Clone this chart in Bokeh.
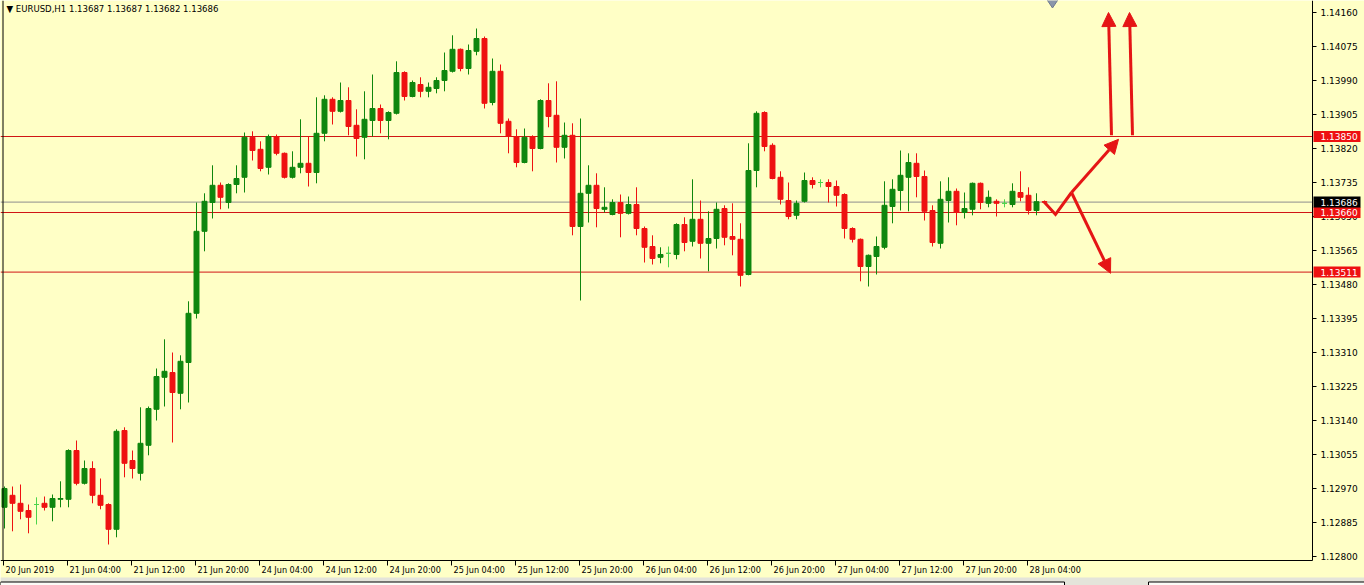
from bokeh.plotting import figure
from bokeh.models import Range1d, ColumnDataSource, Arrow, NormalHead
from bokeh.core.properties import value
from bokeh.embed import file_html
from bokeh.resources import INLINE

header = "\u25bc EURUSD,H1  1.13687 1.13687 1.13682 1.13686"

opens = [1.12923, 1.12953, 1.12933, 1.12915, 1.12930, 1.12933, 1.12923, 1.12943, 1.12943, 1.13065,
         1.12983, 1.13020, 1.12953, 1.12930, 1.12868, 1.13115, 1.13040, 1.13008, 1.13078, 1.13168,
         1.13248, 1.13260, 1.13208, 1.13285, 1.13408, 1.13613, 1.13685, 1.13728, 1.13685, 1.13730,
         1.13748, 1.13848, 1.13818, 1.13773, 1.13850, 1.13808, 1.13748, 1.13773, 1.13783, 1.13760,
         1.13858, 1.13943, 1.13913, 1.13940, 1.13878, 1.13848, 1.13890, 1.13920, 1.13890, 1.13908,
         1.14010, 1.13950, 1.13980, 1.13963, 1.13970, 1.13990, 1.14013, 1.14068, 1.14020, 1.14063,
         1.14095, 1.13935, 1.14013, 1.13888, 1.13850, 1.13785, 1.13850, 1.13820, 1.13940, 1.13903,
         1.13823, 1.13853, 1.13625, 1.13708, 1.13728, 1.13668, 1.13655, 1.13685, 1.13658, 1.13680,
         1.13620, 1.13575, 1.13548, 1.13558, 1.13555, 1.13630, 1.13588, 1.13643, 1.13583, 1.13595,
         1.13670, 1.13600, 1.13593, 1.13505, 1.13765, 1.13910, 1.13828, 1.13748, 1.13690, 1.13653,
         1.13688, 1.13740, 1.13735, 1.13735, 1.13725, 1.13705, 1.13620, 1.13593, 1.13525, 1.13550,
         1.13573, 1.13675, 1.13715, 1.13748, 1.13783, 1.13750, 1.13665, 1.13583, 1.13690, 1.13713,
         1.13660, 1.13668, 1.13733, 1.13683, 1.13688, 1.13683, 1.13680, 1.13710, 1.13703, 1.13665,
         1.13687]
highs = [1.12975, 1.12975, 1.12980, 1.12930, 1.12948, 1.12950, 1.12955, 1.12988, 1.13068, 1.13090,
         1.13040, 1.13038, 1.12995, 1.12933, 1.13118, 1.13123, 1.13065, 1.13173, 1.13175, 1.13270,
         1.13343, 1.13310, 1.13303, 1.13438, 1.13685, 1.13708, 1.13778, 1.13735, 1.13733, 1.13778,
         1.13860, 1.13863, 1.13838, 1.13855, 1.13855, 1.13810, 1.13813, 1.13893, 1.13850, 1.13948,
         1.13953, 1.13948, 1.13985, 1.13973, 1.13918, 1.13963, 1.14005, 1.13930, 1.13913, 1.14038,
         1.14013, 1.13990, 1.13998, 1.13985, 1.13998, 1.14060, 1.14103, 1.14070, 1.14080, 1.14120,
         1.14100, 1.14045, 1.14030, 1.13895, 1.13868, 1.13870, 1.13853, 1.13943, 1.13983, 1.13988,
         1.13885, 1.13883, 1.13895, 1.13778, 1.13758, 1.13723, 1.13693, 1.13705, 1.13700, 1.13723,
         1.13625, 1.13603, 1.13573, 1.13575, 1.13633, 1.13648, 1.13743, 1.13690, 1.13663, 1.13685,
         1.13678, 1.13683, 1.13633, 1.13833, 1.13913, 1.13913, 1.13833, 1.13763, 1.13735, 1.13690,
         1.13760, 1.13748, 1.13743, 1.13743, 1.13740, 1.13708, 1.13623, 1.13595, 1.13555, 1.13600,
         1.13738, 1.13743, 1.13815, 1.13808, 1.13808, 1.13765, 1.13678, 1.13738, 1.13748, 1.13720,
         1.13710, 1.13735, 1.13735, 1.13715, 1.13693, 1.13693, 1.13733, 1.13763, 1.13723, 1.13708,
         1.13687]
lows = [1.12870, 1.12863, 1.12893, 1.12858, 1.12880, 1.12915, 1.12888, 1.12923, 1.12923, 1.12978,
        1.12980, 1.12933, 1.12918, 1.12830, 1.12848, 1.12998, 1.12995, 1.12990, 1.13053, 1.13140,
        1.13175, 1.13085, 1.13168, 1.13185, 1.13395, 1.13563, 1.13645, 1.13668, 1.13670, 1.13708,
        1.13710, 1.13790, 1.13763, 1.13755, 1.13803, 1.13745, 1.13745, 1.13758, 1.13725, 1.13733,
        1.13838, 1.13880, 1.13910, 1.13853, 1.13800, 1.13793, 1.13850, 1.13858, 1.13843, 1.13905,
        1.13940, 1.13948, 1.13948, 1.13948, 1.13958, 1.13963, 1.14010, 1.14013, 1.14005, 1.14053,
        1.13920, 1.13928, 1.13858, 1.13808, 1.13773, 1.13783, 1.13763, 1.13818, 1.13873, 1.13785,
        1.13795, 1.13603, 1.13440, 1.13635, 1.13623, 1.13660, 1.13653, 1.13598, 1.13655, 1.13603,
        1.13535, 1.13530, 1.13533, 1.13523, 1.13543, 1.13563, 1.13575, 1.13545, 1.13513, 1.13570,
        1.13578, 1.13553, 1.13475, 1.13503, 1.13723, 1.13813, 1.13743, 1.13680, 1.13643, 1.13643,
        1.13685, 1.13720, 1.13723, 1.13685, 1.13675, 1.13595, 1.13585, 1.13488, 1.13475, 1.13505,
        1.13568, 1.13633, 1.13665, 1.13663, 1.13698, 1.13640, 1.13575, 1.13570, 1.13635, 1.13628,
        1.13645, 1.13653, 1.13668, 1.13673, 1.13650, 1.13673, 1.13673, 1.13688, 1.13655, 1.13653,
        1.13682]
closes = [1.12970, 1.12933, 1.12913, 1.12898, 1.12930, 1.12923, 1.12945, 1.12945, 1.13065, 1.12983,
          1.13020, 1.12953, 1.12928, 1.12868, 1.13113, 1.13033, 1.13020, 1.13083, 1.13170, 1.13250,
          1.13263, 1.13210, 1.13288, 1.13408, 1.13613, 1.13688, 1.13728, 1.13698, 1.13730, 1.13745,
          1.13848, 1.13815, 1.13770, 1.13850, 1.13808, 1.13748, 1.13773, 1.13783, 1.13760, 1.13858,
          1.13943, 1.13913, 1.13940, 1.13875, 1.13845, 1.13893, 1.13920, 1.13890, 1.13910, 1.14010,
          1.13950, 1.13985, 1.13963, 1.13973, 1.13990, 1.14015, 1.14068, 1.14020, 1.14065, 1.14095,
          1.13933, 1.14013, 1.13883, 1.13850, 1.13785, 1.13848, 1.13820, 1.13940, 1.13900, 1.13823,
          1.13853, 1.13625, 1.13708, 1.13728, 1.13670, 1.13673, 1.13685, 1.13658, 1.13680, 1.13620,
          1.13573, 1.13545, 1.13555, 1.13558, 1.13630, 1.13585, 1.13643, 1.13583, 1.13595, 1.13668,
          1.13598, 1.13593, 1.13503, 1.13765, 1.13908, 1.13825, 1.13745, 1.13693, 1.13650, 1.13683,
          1.13740, 1.13730, 1.13735, 1.13725, 1.13703, 1.13620, 1.13593, 1.13525, 1.13553, 1.13575,
          1.13678, 1.13718, 1.13753, 1.13785, 1.13750, 1.13663, 1.13585, 1.13693, 1.13713, 1.13660,
          1.13670, 1.13733, 1.13685, 1.13698, 1.13683, 1.13683, 1.13713, 1.13698, 1.13665, 1.13687,
          1.13686]

time_tick_bars = [0, 8, 16, 24, 32, 40, 48, 56, 64, 72, 80, 88, 96, 104, 112, 120, 128]
time_tick_labels = ["20 Jun 2019", "21 Jun 04:00", "21 Jun 12:00", "21 Jun 20:00", "24 Jun 04:00",
                    "24 Jun 12:00", "24 Jun 20:00", "25 Jun 04:00", "25 Jun 12:00", "25 Jun 20:00",
                    "26 Jun 04:00", "26 Jun 12:00", "26 Jun 20:00", "27 Jun 04:00", "27 Jun 12:00",
                    "27 Jun 20:00", "28 Jun 04:00"]
price_ticks = [1.12800, 1.12885, 1.12970, 1.13055, 1.13140, 1.13225, 1.13310, 1.13395, 1.13480,
               1.13565, 1.13650, 1.13735, 1.13820, 1.13905, 1.13990, 1.14075, 1.14160]

level_prices = [1.13850, 1.13660, 1.13511]
bid_price = 1.13686

# hand-drawn objects on the chart (bar index, price)
vee_x = [129.875, 131.375, 133.375]
vee_y = [1.13688, 1.13655, 1.13710]
arrow_x0 = [133.375, 133.375, 138.375, 141.0]
arrow_y0 = [1.13710, 1.13710, 1.13853, 1.13853]
arrow_x1 = [139.25, 138.25, 138.0, 140.625]
arrow_y1 = [1.13843, 1.13508, 1.14160, 1.14160]

BG = "#FFFFC6"
BULL = "#0E860E"
BEAR = "#EE1111"
DOJI = "#4CD44C"
LEVEL = "#D01515"
BOX = "#EE1111"
ARROW = "#E51515"
FONT = "DejaVu Sans Condensed, Liberation Sans Narrow, sans-serif"
AXFONT = "DejaVu Sans"

# ---- scale geometry: 8 px per bar, 40000 px per price unit ----
PXX = 1.0 / 8.0          # bar units per pixel
PXY = 1.0 / 40000.0      # price units per pixel
X0, X1 = -0.5, 170.0     # whole canvas in bar units
Y0, Y1 = 1.127275, 1.1419  # whole canvas in price units
FR_R = 163.5             # right edge of the price area (price scale line)
FR_B = 1.1279            # bottom edge of the price area (time scale line)

n = len(opens)
idx = list(range(n))
colors = [BULL if c > o else (BEAR if c < o else DOJI) for o, c in zip(opens, closes)]
src = ColumnDataSource(dict(
    x=idx, o=opens, h=highs, l=lows, c=closes,
    top=[max(o, c) for o, c in zip(opens, closes)],
    bottom=[min(o, c) for o, c in zip(opens, closes)],
    color=colors,
))

p = figure(width=1364, height=585, x_range=Range1d(X0, X1), y_range=Range1d(Y0, Y1),
           output_backend="svg", toolbar_location=None, x_axis_location=None, y_axis_location=None,
           min_border=0, background_fill_color=BG, border_fill_color=BG, outline_line_color=None)
p.grid.visible = False
p.styles = {"position": "absolute", "left": "0px", "top": "0px"}

# ---- bottom status strip ----
p.quad(left=[X0], right=[X1], top=[Y1 - 577 * PXY], bottom=[Y0], fill_color="#E4E4DA", line_color=None)
p.quad(left=[X0, 143.0], right=[132.5, X1], top=[Y1 - 581.5 * PXY] * 2, bottom=[Y0] * 2,
       fill_color="#FBFBF6", line_color="black", line_width=1)

# ---- levels & bid line ----
for lv in level_prices:
    p.segment(x0=[X0], y0=[lv], x1=[FR_R], y1=[lv], line_color=LEVEL, line_width=1)
p.segment(x0=[X0], y0=[bid_price], x1=[FR_R], y1=[bid_price], line_color="#8E8E8E", line_width=1)

# ---- candles ----
p.segment(x0="x", y0="l", x1="x", y1="h", color="color", line_width=1, source=src)
p.vbar(x="x", width=0.62, top="top", bottom="bottom", fill_color="color", line_color="color",
       line_width=1, source=src)

# ---- frame lines ----
p.segment(x0=[X0 + 2.5 * PXX], y0=[FR_B], x1=[X0 + 2.5 * PXX], y1=[Y1], line_color="black", line_width=1)
p.segment(x0=[X0], y0=[FR_B], x1=[FR_R], y1=[FR_B], line_color="black", line_width=1)
p.segment(x0=[FR_R], y0=[FR_B], x1=[FR_R], y1=[Y1], line_color="black", line_width=1)

# ---- price scale ----
p.segment(x0=[FR_R] * len(price_ticks), y0=price_ticks, x1=[FR_R + 4 * PXX] * len(price_ticks),
          y1=price_ticks, line_color="black", line_width=1)
p.text(x=[FR_R + 8 * PXX] * len(price_ticks), y=price_ticks, text=["%.5f" % t for t in price_ticks],
       text_font=value(AXFONT), text_font_size="9px", text_baseline="middle", text_align="left",
       text_color="black")

# ---- time scale ----
tick_x = [b - PXX for b in time_tick_bars]
p.segment(x0=tick_x, y0=[FR_B] * len(tick_x), x1=tick_x, y1=[FR_B - 5 * PXY] * len(tick_x),
          line_color="black", line_width=1)
p.text(x=[b + PXX for b in time_tick_bars], y=[FR_B - 9 * PXY] * len(time_tick_bars),
       text=time_tick_labels, text_font=value(FONT), text_font_size="9px",
       text_baseline="middle", text_align="left", text_color="black")

# ---- header ----
p.text(x=[X0 + 6 * PXX], y=[Y1 - 8 * PXY], text=[header], text_font=value(FONT), text_font_size="9.5px",
       text_baseline="middle", text_align="left", text_color="black")

# ---- marker at top ----
p.scatter(x=[131.0], y=[Y1], marker="diamond", size=15, fill_color="#8A96AA", line_color="#6E7A90")

# ---- drawn arrows ----
p.line(vee_x, vee_y, line_color=ARROW, line_width=3, line_join="miter")
for x0, y0, x1, y1 in zip(arrow_x0, arrow_y0, arrow_x1, arrow_y1):
    p.add_layout(Arrow(x_start=x0, y_start=y0, x_end=x1, y_end=y1, line_color=ARROW, line_width=3,
                       end=NormalHead(size=14, fill_color=ARROW, line_color=ARROW, line_width=1)))

# ---- highlighted price boxes on the scale ----
box_prices = level_prices + [bid_price]
box_colors = [BOX, BOX, BOX, "black"]
p.quad(left=[FR_R + 1 * PXX] * 4, right=[FR_R + 48 * PXX] * 4,
       top=[b + 5.5 * PXY for b in box_prices], bottom=[b - 5.5 * PXY for b in box_prices],
       fill_color=box_colors, line_color=None)
p.text(x=[FR_R + 8 * PXX] * 4, y=box_prices, text=["%.5f" % b for b in box_prices],
       text_font=value(AXFONT), text_font_size="9px", text_baseline="middle", text_align="left",
       text_color="white")

open("out.html", "w").write(file_html(p, INLINE))
